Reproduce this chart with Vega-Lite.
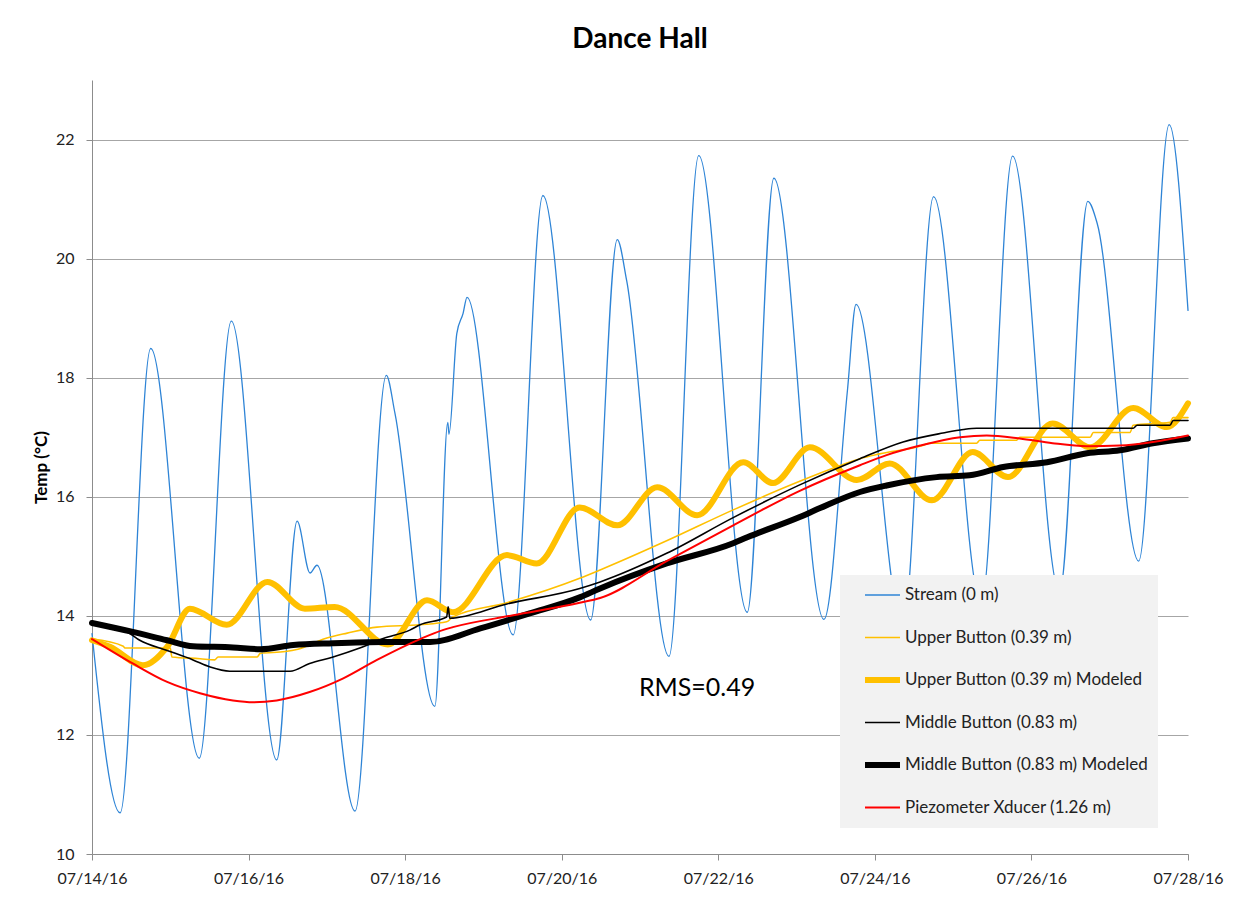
{
  "$schema": "https://vega.github.io/schema/vega-lite/v6.json",
  "width": 1096,
  "height": 774,
  "autosize": {"type": "none"},
  "padding": {"left": 92, "top": 80, "right": 54, "bottom": 44},
  "background": "white",
  "title": {"text": "Dance Hall", "font": "Lato", "fontSize": 28, "fontWeight": "bold", "color": "#000000", "anchor": "middle", "baseline": "alphabetic", "offset": 4},
  "config": {
    "view": {"stroke": null},
    "axis": {"domainColor": "#8c8c8c", "tickColor": "#8c8c8c", "gridColor": "#a6a6a6", "labelFont": "Lato", "labelFontSize": 16, "labelColor": "#222222", "tickSize": 6, "titleFont": "Lato"},
    "legend": {"orient": "none", "legendX": 748, "legendY": 495, "fillColor": "#f2f2f2", "padding": 10, "symbolType": "stroke", "symbolSize": 1225, "clipHeight": 20, "rowPadding": 22.5, "symbolOffset": 12, "labelOffset": 2, "labelFont": "Lato", "labelFontSize": 17, "labelColor": "#222222", "labelLimit": 400}
  },
  "data": {"values": [
    {"s": "Stream (0 m)", "t": "2016-07-14T00:00", "v": 13.7},
    {"s": "Stream (0 m)", "t": "2016-07-14T08:38", "v": 10.69},
    {"s": "Stream (0 m)", "t": "2016-07-14T18:00", "v": 18.49},
    {"s": "Stream (0 m)", "t": "2016-07-15T08:53", "v": 11.61},
    {"s": "Stream (0 m)", "t": "2016-07-15T18:43", "v": 18.95},
    {"s": "Stream (0 m)", "t": "2016-07-16T08:38", "v": 11.58},
    {"s": "Stream (0 m)", "t": "2016-07-16T14:53", "v": 15.59},
    {"s": "Stream (0 m)", "t": "2016-07-16T18:50", "v": 14.72},
    {"s": "Stream (0 m)", "t": "2016-07-16T20:58", "v": 14.85},
    {"s": "Stream (0 m)", "t": "2016-07-17T08:38", "v": 10.72},
    {"s": "Stream (0 m)", "t": "2016-07-17T18:14", "v": 18.04},
    {"s": "Stream (0 m)", "t": "2016-07-17T20:53", "v": 17.4},
    {"s": "Stream (0 m)", "t": "2016-07-18T09:07", "v": 12.48},
    {"s": "Stream (0 m)", "t": "2016-07-18T13:05", "v": 17.25},
    {"s": "Stream (0 m)", "t": "2016-07-18T13:26", "v": 17.05},
    {"s": "Stream (0 m)", "t": "2016-07-18T15:50", "v": 18.74},
    {"s": "Stream (0 m)", "t": "2016-07-18T17:46", "v": 19.08},
    {"s": "Stream (0 m)", "t": "2016-07-18T18:58", "v": 19.35},
    {"s": "Stream (0 m)", "t": "2016-07-19T09:07", "v": 13.68},
    {"s": "Stream (0 m)", "t": "2016-07-19T18:14", "v": 21.06},
    {"s": "Stream (0 m)", "t": "2016-07-20T08:53", "v": 13.93},
    {"s": "Stream (0 m)", "t": "2016-07-20T17:02", "v": 20.32},
    {"s": "Stream (0 m)", "t": "2016-07-20T19:55", "v": 19.63},
    {"s": "Stream (0 m)", "t": "2016-07-21T08:53", "v": 13.32},
    {"s": "Stream (0 m)", "t": "2016-07-21T18:00", "v": 21.73},
    {"s": "Stream (0 m)", "t": "2016-07-22T08:53", "v": 14.06},
    {"s": "Stream (0 m)", "t": "2016-07-22T17:02", "v": 21.35},
    {"s": "Stream (0 m)", "t": "2016-07-23T08:24", "v": 13.94},
    {"s": "Stream (0 m)", "t": "2016-07-23T15:36", "v": 17.79},
    {"s": "Stream (0 m)", "t": "2016-07-23T18:14", "v": 19.23},
    {"s": "Stream (0 m)", "t": "2016-07-24T08:38", "v": 13.8},
    {"s": "Stream (0 m)", "t": "2016-07-24T18:00", "v": 21.04},
    {"s": "Stream (0 m)", "t": "2016-07-25T08:38", "v": 14.2},
    {"s": "Stream (0 m)", "t": "2016-07-25T18:14", "v": 21.72},
    {"s": "Stream (0 m)", "t": "2016-07-26T08:38", "v": 14.4},
    {"s": "Stream (0 m)", "t": "2016-07-26T17:17", "v": 20.96},
    {"s": "Stream (0 m)", "t": "2016-07-26T20:10", "v": 20.59},
    {"s": "Stream (0 m)", "t": "2016-07-27T08:53", "v": 14.92},
    {"s": "Stream (0 m)", "t": "2016-07-27T18:14", "v": 22.25},
    {"s": "Stream (0 m)", "t": "2016-07-28T00:00", "v": 19.13},

    {"s": "Upper Button (0.39 m)", "t": "2016-07-14T00:00", "v": 13.61},
    {"s": "Upper Button (0.39 m)", "t": "2016-07-14T09:36", "v": 13.49},
    {"s": "Upper Button (0.39 m)", "t": "2016-07-14T10:05", "v": 13.46},
    {"s": "Upper Button (0.39 m)", "t": "2016-07-15T00:00", "v": 13.46},
    {"s": "Upper Button (0.39 m)", "t": "2016-07-15T00:29", "v": 13.31},
    {"s": "Upper Button (0.39 m)", "t": "2016-07-15T09:07", "v": 13.28},
    {"s": "Upper Button (0.39 m)", "t": "2016-07-15T13:41", "v": 13.26},
    {"s": "Upper Button (0.39 m)", "t": "2016-07-15T14:38", "v": 13.31},
    {"s": "Upper Button (0.39 m)", "t": "2016-07-16T02:38", "v": 13.31},
    {"s": "Upper Button (0.39 m)", "t": "2016-07-16T03:36", "v": 13.37},
    {"s": "Upper Button (0.39 m)", "t": "2016-07-16T11:17", "v": 13.4},
    {"s": "Upper Button (0.39 m)", "t": "2016-07-16T15:07", "v": 13.44},
    {"s": "Upper Button (0.39 m)", "t": "2016-07-16T23:31", "v": 13.62},
    {"s": "Upper Button (0.39 m)", "t": "2016-07-17T06:14", "v": 13.71},
    {"s": "Upper Button (0.39 m)", "t": "2016-07-17T15:22", "v": 13.81},
    {"s": "Upper Button (0.39 m)", "t": "2016-07-18T04:34", "v": 13.85},
    {"s": "Upper Button (0.39 m)", "t": "2016-07-18T12:43", "v": 13.9},
    {"s": "Upper Button (0.39 m)", "t": "2016-07-18T14:38", "v": 13.98},
    {"s": "Upper Button (0.39 m)", "t": "2016-07-19T07:12", "v": 14.22},
    {"s": "Upper Button (0.39 m)", "t": "2016-07-20T05:31", "v": 14.63},
    {"s": "Upper Button (0.39 m)", "t": "2016-07-20T11:46", "v": 14.77},
    {"s": "Upper Button (0.39 m)", "t": "2016-07-21T08:10", "v": 15.26},
    {"s": "Upper Button (0.39 m)", "t": "2016-07-22T04:34", "v": 15.78},
    {"s": "Upper Button (0.39 m)", "t": "2016-07-23T00:58", "v": 16.26},
    {"s": "Upper Button (0.39 m)", "t": "2016-07-23T13:12", "v": 16.52},
    {"s": "Upper Button (0.39 m)", "t": "2016-07-23T19:26", "v": 16.64},
    {"s": "Upper Button (0.39 m)", "t": "2016-07-24T01:26", "v": 16.72},
    {"s": "Upper Button (0.39 m)", "t": "2016-07-24T14:38", "v": 16.86},
    {"s": "Upper Button (0.39 m)", "t": "2016-07-24T16:48", "v": 16.9},
    {"s": "Upper Button (0.39 m)", "t": "2016-07-25T07:12", "v": 16.9},
    {"s": "Upper Button (0.39 m)", "t": "2016-07-25T08:10", "v": 16.95},
    {"s": "Upper Button (0.39 m)", "t": "2016-07-25T19:26", "v": 16.95},
    {"s": "Upper Button (0.39 m)", "t": "2016-07-25T20:24", "v": 17.0},
    {"s": "Upper Button (0.39 m)", "t": "2016-07-26T18:00", "v": 17.0},
    {"s": "Upper Button (0.39 m)", "t": "2016-07-26T18:58", "v": 17.08},
    {"s": "Upper Button (0.39 m)", "t": "2016-07-27T06:14", "v": 17.08},
    {"s": "Upper Button (0.39 m)", "t": "2016-07-27T07:12", "v": 17.2},
    {"s": "Upper Button (0.39 m)", "t": "2016-07-27T18:29", "v": 17.25},
    {"s": "Upper Button (0.39 m)", "t": "2016-07-27T19:26", "v": 17.33},
    {"s": "Upper Button (0.39 m)", "t": "2016-07-28T00:00", "v": 17.33},

    {"s": "Upper Button (0.39 m) Modeled", "t": "2016-07-14T00:00", "v": 13.59},
    {"s": "Upper Button (0.39 m) Modeled", "t": "2016-07-14T05:31", "v": 13.48},
    {"s": "Upper Button (0.39 m) Modeled", "t": "2016-07-14T15:36", "v": 13.17},
    {"s": "Upper Button (0.39 m) Modeled", "t": "2016-07-14T23:02", "v": 13.48},
    {"s": "Upper Button (0.39 m) Modeled", "t": "2016-07-15T06:00", "v": 14.12},
    {"s": "Upper Button (0.39 m) Modeled", "t": "2016-07-15T17:17", "v": 13.85},
    {"s": "Upper Button (0.39 m) Modeled", "t": "2016-07-16T05:46", "v": 14.57},
    {"s": "Upper Button (0.39 m) Modeled", "t": "2016-07-16T17:17", "v": 14.12},
    {"s": "Upper Button (0.39 m) Modeled", "t": "2016-07-17T02:24", "v": 14.15},
    {"s": "Upper Button (0.39 m) Modeled", "t": "2016-07-17T18:43", "v": 13.52},
    {"s": "Upper Button (0.39 m) Modeled", "t": "2016-07-18T06:43", "v": 14.26},
    {"s": "Upper Button (0.39 m) Modeled", "t": "2016-07-18T14:38", "v": 14.06},
    {"s": "Upper Button (0.39 m) Modeled", "t": "2016-07-19T07:12", "v": 15.02},
    {"s": "Upper Button (0.39 m) Modeled", "t": "2016-07-19T16:19", "v": 14.88},
    {"s": "Upper Button (0.39 m) Modeled", "t": "2016-07-20T05:31", "v": 15.82},
    {"s": "Upper Button (0.39 m) Modeled", "t": "2016-07-20T17:02", "v": 15.52},
    {"s": "Upper Button (0.39 m) Modeled", "t": "2016-07-21T05:17", "v": 16.16},
    {"s": "Upper Button (0.39 m) Modeled", "t": "2016-07-21T17:31", "v": 15.69},
    {"s": "Upper Button (0.39 m) Modeled", "t": "2016-07-22T07:41", "v": 16.58},
    {"s": "Upper Button (0.39 m) Modeled", "t": "2016-07-22T16:48", "v": 16.23},
    {"s": "Upper Button (0.39 m) Modeled", "t": "2016-07-23T04:05", "v": 16.83},
    {"s": "Upper Button (0.39 m) Modeled", "t": "2016-07-23T18:29", "v": 16.28},
    {"s": "Upper Button (0.39 m) Modeled", "t": "2016-07-24T04:34", "v": 16.56},
    {"s": "Upper Button (0.39 m) Modeled", "t": "2016-07-24T17:31", "v": 15.94},
    {"s": "Upper Button (0.39 m) Modeled", "t": "2016-07-25T06:00", "v": 16.75},
    {"s": "Upper Button (0.39 m) Modeled", "t": "2016-07-25T16:48", "v": 16.33},
    {"s": "Upper Button (0.39 m) Modeled", "t": "2016-07-26T06:29", "v": 17.23},
    {"s": "Upper Button (0.39 m) Modeled", "t": "2016-07-26T18:00", "v": 16.83},
    {"s": "Upper Button (0.39 m) Modeled", "t": "2016-07-27T07:12", "v": 17.49},
    {"s": "Upper Button (0.39 m) Modeled", "t": "2016-07-27T17:31", "v": 17.17},
    {"s": "Upper Button (0.39 m) Modeled", "t": "2016-07-28T00:00", "v": 17.57},

    {"s": "Middle Button (0.83 m)", "t": "2016-07-14T00:00", "v": 13.86},
    {"s": "Middle Button (0.83 m)", "t": "2016-07-14T10:48", "v": 13.73},
    {"s": "Middle Button (0.83 m)", "t": "2016-07-14T14:38", "v": 13.59},
    {"s": "Middle Button (0.83 m)", "t": "2016-07-14T23:02", "v": 13.42},
    {"s": "Middle Button (0.83 m)", "t": "2016-07-15T06:58", "v": 13.26},
    {"s": "Middle Button (0.83 m)", "t": "2016-07-15T12:14", "v": 13.14},
    {"s": "Middle Button (0.83 m)", "t": "2016-07-15T18:14", "v": 13.07},
    {"s": "Middle Button (0.83 m)", "t": "2016-07-16T12:43", "v": 13.07},
    {"s": "Middle Button (0.83 m)", "t": "2016-07-16T18:43", "v": 13.2},
    {"s": "Middle Button (0.83 m)", "t": "2016-07-17T01:55", "v": 13.31},
    {"s": "Middle Button (0.83 m)", "t": "2016-07-17T10:05", "v": 13.46},
    {"s": "Middle Button (0.83 m)", "t": "2016-07-17T17:17", "v": 13.62},
    {"s": "Middle Button (0.83 m)", "t": "2016-07-18T01:26", "v": 13.76},
    {"s": "Middle Button (0.83 m)", "t": "2016-07-18T04:34", "v": 13.85},
    {"s": "Middle Button (0.83 m)", "t": "2016-07-18T12:43", "v": 13.98},
    {"s": "Middle Button (0.83 m)", "t": "2016-07-18T13:12", "v": 14.15},
    {"s": "Middle Button (0.83 m)", "t": "2016-07-18T13:41", "v": 13.96},
    {"s": "Middle Button (0.83 m)", "t": "2016-07-19T07:12", "v": 14.2},
    {"s": "Middle Button (0.83 m)", "t": "2016-07-20T05:31", "v": 14.46},
    {"s": "Middle Button (0.83 m)", "t": "2016-07-20T11:46", "v": 14.57},
    {"s": "Middle Button (0.83 m)", "t": "2016-07-21T08:10", "v": 15.05},
    {"s": "Middle Button (0.83 m)", "t": "2016-07-22T04:34", "v": 15.65},
    {"s": "Middle Button (0.83 m)", "t": "2016-07-23T00:58", "v": 16.2},
    {"s": "Middle Button (0.83 m)", "t": "2016-07-23T19:26", "v": 16.64},
    {"s": "Middle Button (0.83 m)", "t": "2016-07-24T08:38", "v": 16.92},
    {"s": "Middle Button (0.83 m)", "t": "2016-07-24T20:53", "v": 17.07},
    {"s": "Middle Button (0.83 m)", "t": "2016-07-25T03:07", "v": 17.13},
    {"s": "Middle Button (0.83 m)", "t": "2016-07-25T07:12", "v": 17.15},
    {"s": "Middle Button (0.83 m)", "t": "2016-07-27T07:12", "v": 17.15},
    {"s": "Middle Button (0.83 m)", "t": "2016-07-27T08:24", "v": 17.2},
    {"s": "Middle Button (0.83 m)", "t": "2016-07-27T18:29", "v": 17.2},
    {"s": "Middle Button (0.83 m)", "t": "2016-07-27T19:26", "v": 17.28},
    {"s": "Middle Button (0.83 m)", "t": "2016-07-28T00:00", "v": 17.28},

    {"s": "Middle Button (0.83 m) Modeled", "t": "2016-07-14T00:00", "v": 13.88},
    {"s": "Middle Button (0.83 m) Modeled", "t": "2016-07-14T12:29", "v": 13.73},
    {"s": "Middle Button (0.83 m) Modeled", "t": "2016-07-14T23:02", "v": 13.59},
    {"s": "Middle Button (0.83 m) Modeled", "t": "2016-07-15T06:58", "v": 13.49},
    {"s": "Middle Button (0.83 m) Modeled", "t": "2016-07-15T19:12", "v": 13.47},
    {"s": "Middle Button (0.83 m) Modeled", "t": "2016-07-16T03:36", "v": 13.44},
    {"s": "Middle Button (0.83 m) Modeled", "t": "2016-07-16T13:41", "v": 13.51},
    {"s": "Middle Button (0.83 m) Modeled", "t": "2016-07-17T01:55", "v": 13.54},
    {"s": "Middle Button (0.83 m) Modeled", "t": "2016-07-17T17:17", "v": 13.56},
    {"s": "Middle Button (0.83 m) Modeled", "t": "2016-07-18T07:41", "v": 13.56},
    {"s": "Middle Button (0.83 m) Modeled", "t": "2016-07-18T23:02", "v": 13.79},
    {"s": "Middle Button (0.83 m) Modeled", "t": "2016-07-19T14:10", "v": 14.04},
    {"s": "Middle Button (0.83 m) Modeled", "t": "2016-07-20T05:31", "v": 14.31},
    {"s": "Middle Button (0.83 m) Modeled", "t": "2016-07-20T11:46", "v": 14.46},
    {"s": "Middle Button (0.83 m) Modeled", "t": "2016-07-21T08:10", "v": 14.88},
    {"s": "Middle Button (0.83 m) Modeled", "t": "2016-07-22T04:34", "v": 15.22},
    {"s": "Middle Button (0.83 m) Modeled", "t": "2016-07-22T08:53", "v": 15.32},
    {"s": "Middle Button (0.83 m) Modeled", "t": "2016-07-23T00:58", "v": 15.66},
    {"s": "Middle Button (0.83 m) Modeled", "t": "2016-07-23T07:12", "v": 15.81},
    {"s": "Middle Button (0.83 m) Modeled", "t": "2016-07-23T19:26", "v": 16.08},
    {"s": "Middle Button (0.83 m) Modeled", "t": "2016-07-24T03:36", "v": 16.19},
    {"s": "Middle Button (0.83 m) Modeled", "t": "2016-07-24T18:58", "v": 16.33},
    {"s": "Middle Button (0.83 m) Modeled", "t": "2016-07-25T05:02", "v": 16.36},
    {"s": "Middle Button (0.83 m) Modeled", "t": "2016-07-25T15:22", "v": 16.5},
    {"s": "Middle Button (0.83 m) Modeled", "t": "2016-07-26T04:48", "v": 16.58},
    {"s": "Middle Button (0.83 m) Modeled", "t": "2016-07-26T17:02", "v": 16.73},
    {"s": "Middle Button (0.83 m) Modeled", "t": "2016-07-27T03:07", "v": 16.78},
    {"s": "Middle Button (0.83 m) Modeled", "t": "2016-07-27T13:12", "v": 16.9},
    {"s": "Middle Button (0.83 m) Modeled", "t": "2016-07-28T00:00", "v": 16.98},

    {"s": "Piezometer Xducer (1.26 m)", "t": "2016-07-14T00:00", "v": 13.61},
    {"s": "Piezometer Xducer (1.26 m)", "t": "2016-07-14T12:29", "v": 13.2},
    {"s": "Piezometer Xducer (1.26 m)", "t": "2016-07-14T23:02", "v": 12.89},
    {"s": "Piezometer Xducer (1.26 m)", "t": "2016-07-15T09:07", "v": 12.7},
    {"s": "Piezometer Xducer (1.26 m)", "t": "2016-07-15T19:12", "v": 12.58},
    {"s": "Piezometer Xducer (1.26 m)", "t": "2016-07-16T01:26", "v": 12.55},
    {"s": "Piezometer Xducer (1.26 m)", "t": "2016-07-16T08:38", "v": 12.58},
    {"s": "Piezometer Xducer (1.26 m)", "t": "2016-07-16T18:43", "v": 12.72},
    {"s": "Piezometer Xducer (1.26 m)", "t": "2016-07-17T05:02", "v": 12.95},
    {"s": "Piezometer Xducer (1.26 m)", "t": "2016-07-17T15:22", "v": 13.26},
    {"s": "Piezometer Xducer (1.26 m)", "t": "2016-07-18T04:34", "v": 13.61},
    {"s": "Piezometer Xducer (1.26 m)", "t": "2016-07-18T11:31", "v": 13.76},
    {"s": "Piezometer Xducer (1.26 m)", "t": "2016-07-18T14:38", "v": 13.81},
    {"s": "Piezometer Xducer (1.26 m)", "t": "2016-07-19T09:07", "v": 14.01},
    {"s": "Piezometer Xducer (1.26 m)", "t": "2016-07-20T05:31", "v": 14.22},
    {"s": "Piezometer Xducer (1.26 m)", "t": "2016-07-20T11:46", "v": 14.3},
    {"s": "Piezometer Xducer (1.26 m)", "t": "2016-07-21T08:10", "v": 14.92},
    {"s": "Piezometer Xducer (1.26 m)", "t": "2016-07-22T04:34", "v": 15.52},
    {"s": "Piezometer Xducer (1.26 m)", "t": "2016-07-23T00:58", "v": 16.1},
    {"s": "Piezometer Xducer (1.26 m)", "t": "2016-07-23T19:26", "v": 16.53},
    {"s": "Piezometer Xducer (1.26 m)", "t": "2016-07-24T03:36", "v": 16.7},
    {"s": "Piezometer Xducer (1.26 m)", "t": "2016-07-24T13:55", "v": 16.86},
    {"s": "Piezometer Xducer (1.26 m)", "t": "2016-07-25T02:10", "v": 17.0},
    {"s": "Piezometer Xducer (1.26 m)", "t": "2016-07-25T10:19", "v": 17.03},
    {"s": "Piezometer Xducer (1.26 m)", "t": "2016-07-25T20:24", "v": 16.98},
    {"s": "Piezometer Xducer (1.26 m)", "t": "2016-07-26T06:29", "v": 16.9},
    {"s": "Piezometer Xducer (1.26 m)", "t": "2016-07-26T17:02", "v": 16.85},
    {"s": "Piezometer Xducer (1.26 m)", "t": "2016-07-27T03:07", "v": 16.86},
    {"s": "Piezometer Xducer (1.26 m)", "t": "2016-07-27T13:12", "v": 16.92},
    {"s": "Piezometer Xducer (1.26 m)", "t": "2016-07-28T00:00", "v": 17.03}
  ]},
  "layer": [
    {
      "mark": {"type": "line", "interpolate": "monotone", "strokeCap": "round", "strokeJoin": "round"},
      "encoding": {
        "x": {"field": "t", "type": "temporal",
          "scale": {"domain": [{"year": 2016, "month": 7, "date": 14}, {"year": 2016, "month": 7, "date": 28}], "nice": false},
          "axis": {"values": [{"year": 2016, "month": 7, "date": 14}, {"year": 2016, "month": 7, "date": 16}, {"year": 2016, "month": 7, "date": 18}, {"year": 2016, "month": 7, "date": 20}, {"year": 2016, "month": 7, "date": 22}, {"year": 2016, "month": 7, "date": 24}, {"year": 2016, "month": 7, "date": 26}, {"year": 2016, "month": 7, "date": 28}], "format": "%m/%d/%y", "grid": false, "title": null, "labelPadding": 10, "labelFlush": false, "labelOverlap": false}},
        "y": {"field": "v", "type": "quantitative",
          "scale": {"domain": [10, 23], "nice": false, "zero": false},
          "axis": {"values": [10, 12, 14, 16, 18, 20, 22], "format": "d", "grid": true, "title": "Temp (°C)", "titleFontSize": 17, "titleFontWeight": "bold", "titleColor": "#000000", "titlePadding": 5, "labelPadding": 12}},
        "color": {"field": "s", "type": "nominal", "sort": null,
          "scale": {"domain": ["Stream (0 m)", "Upper Button (0.39 m)", "Upper Button (0.39 m) Modeled", "Middle Button (0.83 m)", "Middle Button (0.83 m) Modeled", "Piezometer Xducer (1.26 m)"],
                    "range": ["#2e84d6", "#ffc000", "#ffc000", "#000000", "#000000", "#ff0000"]},
          "legend": {"title": null}},
        "strokeWidth": {"field": "s", "type": "nominal", "sort": null,
          "scale": {"type": "ordinal", "domain": ["Stream (0 m)", "Upper Button (0.39 m)", "Upper Button (0.39 m) Modeled", "Middle Button (0.83 m)", "Middle Button (0.83 m) Modeled", "Piezometer Xducer (1.26 m)"],
                    "range": [1.3, 1.6, 6, 1.6, 6, 2]},
          "legend": {"title": null}}
      }
    },
    {
      "data": {"values": [{"label": "RMS=0.49"}]},
      "mark": {"type": "text", "font": "Lato", "fontSize": 25, "color": "#000000"},
      "encoding": {
        "x": {"datum": {"year": 2016, "month": 7, "date": 21, "hours": 17, "minutes": 30}, "type": "temporal"},
        "y": {"datum": 12.79, "type": "quantitative"},
        "text": {"field": "label"}
      }
    }
  ]
}
